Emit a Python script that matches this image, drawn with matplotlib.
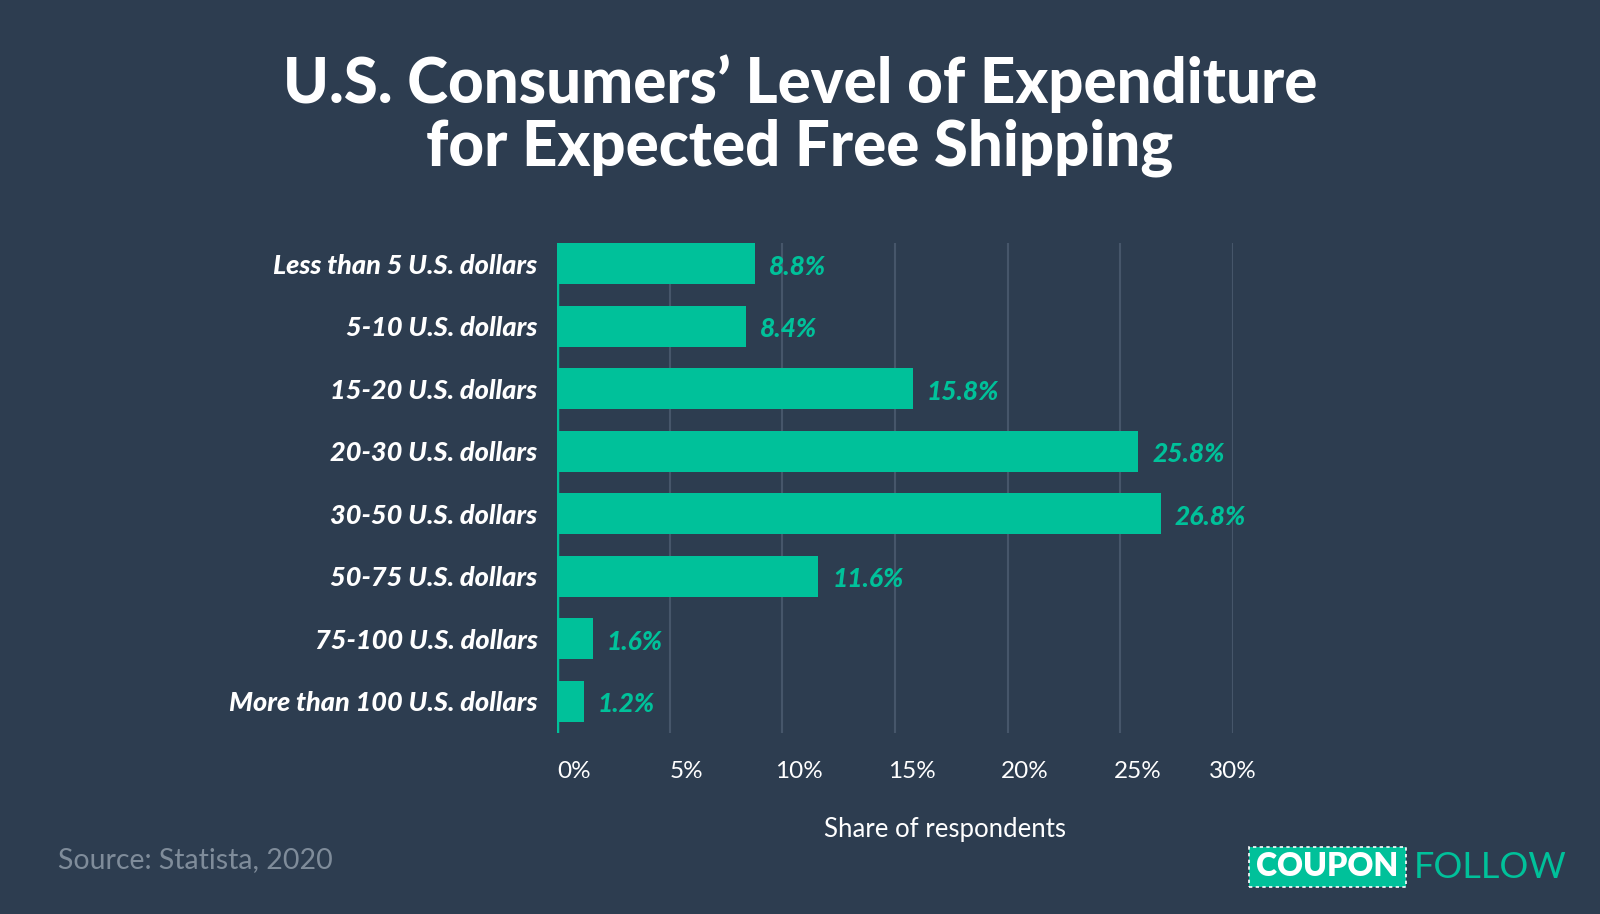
import matplotlib.pyplot as plt
from matplotlib.patches import FancyBboxPatch
import matplotlib.transforms as mtransforms

# Données
categories = ["Less than 5 U.S. dollars", "5-10 U.S. dollars", "15-20 U.S. dollars",
              "20-30 U.S. dollars", "30-50 U.S. dollars", "50-75 U.S. dollars",
              "75-100 U.S. dollars", "More than 100 U.S. dollars"]
valeurs = [8.8, 8.4, 15.8, 25.8, 26.8, 11.6, 1.6, 1.2]
graduations = [0, 5, 10, 15, 20, 25, 30]
etiquettes_x = ["0%", "5%", "10%", "15%", "20%", "25%", "30%"]

# Couleurs
fond = "#2d3d50"
turquoise = "#00c19a"
grille = "#46566a"
gris = "#7f8c9a"

plt.rcParams['font.family'] = ['Lato', 'DejaVu Sans']

fig = plt.figure(figsize=(16, 9.14), dpi=100, facecolor=fond)
ax = fig.add_axes([557/1600, 1-733/914, (1233-557)/1600, (733-243)/914])
ax.set_facecolor(fond)

y = list(range(len(categories)))
ax.barh(y, valeurs, height=0.66, color=turquoise, zorder=3)
ax.set_xlim(0, 30)
ax.set_ylim(7.51, -0.33)

# Grille verticale
for g in graduations[1:]:
    ax.axvline(g, color=grille, lw=1.5, zorder=1)
for s in ax.spines.values():
    s.set_visible(False)
ax.axvline(0, color=turquoise, lw=2.5, zorder=4)

# Étiquettes des catégories
ax.set_yticks(y)
ax.set_yticklabels(categories, fontsize=19.5, fontweight='black', style='italic', color='white')
ax.tick_params(axis='y', length=0, pad=14)

# Étiquettes de l'axe x
ax.set_xticks(graduations)
ax.set_xticklabels(etiquettes_x, fontsize=17.5, color='white')
ax.tick_params(axis='x', length=0, pad=20)
for i, lab in enumerate(ax.get_xticklabels()):
    if i < len(graduations) - 1:
        lab.set_transform(lab.get_transform() + mtransforms.ScaledTranslation(17/100, 0, fig.dpi_scale_trans))

# Valeurs au bout des barres
for yi, v in zip(y, valeurs):
    ax.annotate(f"{v}%", (v, yi), xytext=(14, -3), textcoords='offset pixels',
                ha='left', va='center', fontsize=19, fontweight='black', style='italic',
                color=turquoise)

# Titre
fig.text(0.5, 1-84/914, "U.S. Consumers’ Level of Expenditure", ha='center', va='center',
         fontsize=44.5, fontweight='black', color='white')
fig.text(0.5, 1-148/914, "for Expected Free Shipping", ha='center', va='center',
         fontsize=44.5, fontweight='black', color='white')

fig.text(945/1600, 1-829/914, "Share of respondents", ha='center', va='center',
         fontsize=18.5, color='white')
fig.text(58/1600, 1-860/914, "Source: Statista, 2020", ha='left', va='center',
         fontsize=20.5, color=gris)

# Logo
boite = FancyBboxPatch((1249/1600, 1-887/914), 157/1600, 40/914, boxstyle='square,pad=0',
                       transform=fig.transFigure, facecolor=turquoise, edgecolor='white',
                       linestyle=(0, (2, 2)), lw=1.2)
fig.patches.append(boite)
fig.text(1327/1600, 1-867/914, "COUPON", ha='center', va='center', fontsize=23,
         fontweight='heavy', color='white')
fig.text(1414/1600, 1-867/914, "FOLLOW", ha='left', va='center', fontsize=26,
         fontweight='normal', color=turquoise)

fig.savefig("out.png", dpi=100, facecolor=fond)
